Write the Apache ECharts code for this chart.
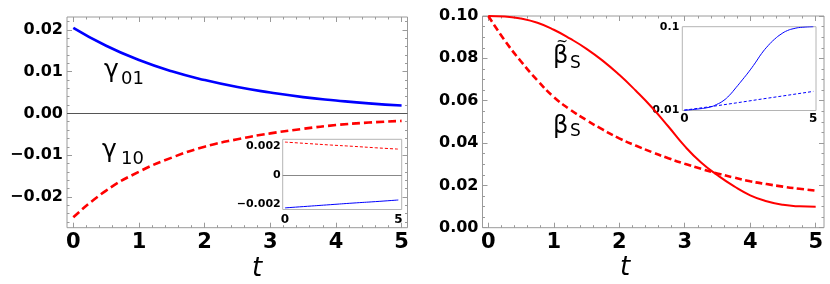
<!DOCTYPE html>
<html><head><meta charset="utf-8">
<script src="https://cdn.jsdelivr.net/npm/echarts@6/dist/echarts.min.js"></script>
<style>html,body{margin:0;padding:0;background:#fff}#c{width:830px;height:284px}</style>
</head><body><div id="c"></div>
<script>
// ---- data ----
const tMain = [0, 0.5, 1, 1.5, 2, 2.5, 3, 3.5, 4, 4.5, 5];
const gamma01 = [0.0205, 0.0162, 0.0128, 0.0101, 0.0080, 0.0063, 0.0050, 0.0039, 0.0031, 0.0024, 0.0019];
const gamma10 = [-0.0249, -0.0185, -0.0140, -0.0106, -0.0080, -0.0062, -0.0048, -0.0037, -0.0028, -0.0022, -0.0018];
const tFine = [0, 0.25, 0.5, 0.75, 1, 1.25, 1.5, 1.75, 2, 2.25, 2.5, 2.75, 3, 3.25, 3.5, 3.75, 4, 4.25, 4.5, 4.75, 5];
const betaTilde = [0.1000, 0.0998, 0.0988, 0.0968, 0.0935, 0.0893, 0.0845, 0.0788, 0.0722, 0.0648, 0.0568, 0.0478, 0.0385, 0.0308, 0.0248, 0.0196, 0.0153, 0.0125, 0.0108, 0.0101, 0.0099];
const betaS = [0.1000, 0.0885, 0.0785, 0.0696, 0.0617, 0.0558, 0.0508, 0.0463, 0.0422, 0.0388, 0.0357, 0.0328, 0.0302, 0.0278, 0.0256, 0.0237, 0.0219, 0.0206, 0.0194, 0.0184, 0.0175];
const tInset = [0, 1, 2, 3, 4, 5];
const insetRed = [0.00225, 0.00215, 0.00205, 0.00196, 0.00186, 0.00177];
const insetBlue = [-0.00225, -0.00214, -0.00203, -0.00192, -0.00182, -0.00171];
const tLog = [0, 0.5, 1, 1.25, 1.5, 1.75, 2, 2.25, 2.5, 2.75, 3, 3.25, 3.5, 3.75, 4, 4.25, 4.5, 5];
const logSolid = [0.0101, 0.0104, 0.0110, 0.0118, 0.0130, 0.0152, 0.0187, 0.0232, 0.0290, 0.0370, 0.0480, 0.0595, 0.0710, 0.0815, 0.0900, 0.0950, 0.0980, 0.1000];
const logDashed = [0.0101, 0.0111, 0.0123, 0.0137, 0.0152, 0.0169];

const xTicks = [0, 1, 2, 3, 4, 5];
const xTickLabels = ['0', '1', '2', '3', '4', '5'];
const yTicksL = [-0.02, -0.01, 0, 0.01, 0.02];
const yTickLabelsL = ['\u22120.02', '\u22120.01', '0.00', '0.01', '0.02'];
const yTicksR = [0, 0.02, 0.04, 0.06, 0.08, 0.10];
const yTickLabelsR = ['0.00', '0.02', '0.04', '0.06', '0.08', '0.10'];
const insetXTicks = [0, 5];
const insetXLabels = ['0', '5'];
const insetYTicks = [-0.002, 0, 0.002];
const insetYLabels = ['\u22120.002', '0', '0.002'];
const logYTicks = [0.01, 0.1];
const logYLabels = ['0.01', '0.1'];

// ---- helpers ----
function pairs(xs, ys) { return xs.map((x, i) => [x, ys[i]]); }
function fmt(ticks, labels) {
  return v => { const i = ticks.findIndex(t => Math.abs(t - v) <= 1e-9 + Math.abs(t) * 1e-6); return i >= 0 ? labels[i] : ''; };
}
function range(a, b, step) { const r = []; const n = Math.round((b - a) / step); for (let i = 0; i <= n; i++) r.push(+(a + i * step).toFixed(6)); return r; }

const FRAME = '#9a9a9a';
const BOLD = { fontFamily: 'DejaVu Sans', fontWeight: 'bold', color: '#000' };

function axis(grid, pos, min, max, ticks, len, label) {
  return {
    gridIndex: grid, type: 'value', position: pos, min: min, max: max,
    axisLine: { show: false, onZero: false },
    splitLine: { show: false },
    axisTick: { show: len > 0, inside: true, length: len, customValues: ticks, lineStyle: { color: FRAME, width: 1 } },
    axisLabel: label ? Object.assign({ show: true }, label) : { show: false }
  };
}

const xMinor = range(0, 5, 0.2);
const yMinorL = range(-0.026, 0.022, 0.002);
const yMinorR = range(0, 0.1, 0.005);

const xAxes = [
  axis(0, 'bottom', -0.096, 5.09, xTicks, 5, Object.assign({ customValues: xTicks, formatter: fmt(xTicks, xTickLabels), fontSize: 21, margin: 15, verticalAlign: 'middle' }, BOLD)),
  axis(0, 'bottom', -0.096, 5.09, xMinor, 2.5, null),
  axis(0, 'top', -0.096, 5.09, xTicks, 5, null),
  axis(0, 'top', -0.096, 5.09, xMinor, 2.5, null),
  axis(1, 'bottom', -0.089, 5.127, xTicks, 5, Object.assign({ customValues: xTicks, formatter: fmt(xTicks, xTickLabels), fontSize: 21, margin: 15, verticalAlign: 'middle' }, BOLD)),
  axis(1, 'bottom', -0.089, 5.127, xMinor, 2.5, null),
  axis(1, 'top', -0.089, 5.127, xTicks, 5, null),
  axis(1, 'top', -0.089, 5.127, xMinor, 2.5, null),
  axis(2, 'bottom', -0.1, 5.15, [], 0, Object.assign({ customValues: insetXTicks, formatter: fmt(insetXTicks, insetXLabels), fontSize: 12, margin: 10, verticalAlign: 'middle' }, BOLD)),
  axis(3, 'bottom', -0.078, 5.105, [], 0, Object.assign({ customValues: insetXTicks, formatter: fmt(insetXTicks, insetXLabels), fontSize: 12, margin: 8, verticalAlign: 'middle' }, BOLD))
];

const yAxes = [
  axis(0, 'left', -0.0274, 0.0231, yTicksL, 5, Object.assign({ customValues: yTicksL, formatter: fmt(yTicksL, yTickLabelsL), fontSize: 16, margin: 4 }, BOLD)),
  axis(0, 'left', -0.0274, 0.0231, yMinorL, 2.5, null),
  axis(0, 'right', -0.0274, 0.0231, yTicksL, 5, null),
  axis(0, 'right', -0.0274, 0.0231, yMinorL, 2.5, null),
  axis(1, 'left', 0, 0.1, yTicksR, 5, Object.assign({ customValues: yTicksR, formatter: fmt(yTicksR, yTickLabelsR), fontSize: 16, margin: 4 }, BOLD)),
  axis(1, 'left', 0, 0.1, yMinorR, 2.5, null),
  axis(1, 'right', 0, 0.1, yTicksR, 5, null),
  axis(1, 'right', 0, 0.1, yMinorR, 2.5, null),
  axis(2, 'left', -0.00236, 0.00244, [], 0, Object.assign({ customValues: insetYTicks, formatter: fmt(insetYTicks, insetYLabels), fontSize: 11, margin: 2 }, BOLD)),
  {
    gridIndex: 3, type: 'log', logBase: 10, min: 0.01, max: 0.1, position: 'left',
    axisLine: { show: false, onZero: false }, splitLine: { show: false }, axisTick: { show: false }, minorTick: { show: false },
    axisLabel: Object.assign({ show: true, formatter: fmt(logYTicks, logYLabels), fontSize: 11, margin: 3 }, BOLD)
  }
];

function line(xi, yi, xs, ys, style, z) {
  return { type: 'line', xAxisIndex: xi, yAxisIndex: yi, data: pairs(xs, ys), smooth: 0.5,
    showSymbol: false, z: z || 2, lineStyle: style };
}
const zeroMark = (color) => ({ silent: true, symbol: ['none', 'none'], label: { show: false }, lineStyle: { color: color, width: 1, type: 'solid' }, data: [{ yAxis: 0 }] });

const series = [
  line(0, 0, tMain, gamma01, { color: '#0000ff', width: 2.6 }),
  line(0, 0, tMain, gamma10, { color: '#ff0000', width: 2.6, type: [8, 4] }),
  line(4, 4, tFine, betaTilde, { color: '#ff0000', width: 2 }),
  line(4, 4, tFine, betaS, { color: '#ff0000', width: 2.6, type: [7, 3.5] }),
  line(8, 8, tInset, insetRed, { color: '#ff0000', width: 1, type: [3, 2] }, 6),
  line(8, 8, tInset, insetBlue, { color: '#0000ff', width: 1 }, 6),
  line(9, 9, tLog, logSolid, { color: '#0000ff', width: 1 }, 6),
  line(9, 9, tInset, logDashed, { color: '#0000ff', width: 1, type: [3, 2] }, 6)
];
series[0].markLine = zeroMark('#555');
series[4].markLine = zeroMark('#888');
series[7].smooth = false;

function txt(x, y, s, size, extra) {
  return { type: 'text', x: x, y: y, z: 10, style: Object.assign({ text: s, fontSize: size, fontFamily: 'DejaVu Sans', fill: '#000', align: 'left', verticalAlign: 'middle' }, extra || {}) };
}

const option = {
  animation: false,
  backgroundColor: '#fff',
  grid: [
    { left: 67, right: 422.5, top: 17, bottom: 56.3, show: true, borderColor: FRAME, borderWidth: 1, backgroundColor: 'transparent', outerBoundsMode: 'none' },
    { left: 482.5, right: 6, top: 16, bottom: 56.3, show: true, borderColor: FRAME, borderWidth: 1, backgroundColor: 'transparent', outerBoundsMode: 'none' },
    { left: 282.7, right: 428.3, top: 139.3, bottom: 74.5, show: true, borderColor: '#b4b4b4', borderWidth: 1, backgroundColor: '#fff', z: 5, outerBoundsMode: 'none' },
    { left: 682.3, right: 14, top: 26.7, bottom: 173.5, show: true, borderColor: '#b4b4b4', borderWidth: 1, backgroundColor: '#fff', z: 5, outerBoundsMode: 'none' }
  ],
  xAxis: xAxes,
  yAxis: yAxes,
  series: series,
  graphic: [
    txt(104, 70, '\u03b3', 25),
    txt(121, 79, '01', 18),
    txt(102, 150, '\u03b3', 25),
    txt(121, 159, '10', 18),
    txt(553, 57, '\u03b2', 24),
    txt(562, 42, '~', 14, { align: 'center' }),
    txt(570, 64, 'S', 17),
    txt(553, 127, '\u03b2', 24),
    txt(570, 132, 'S', 17),
    txt(257, 269, 't', 26, { fontStyle: 'italic', align: 'center' }),
    txt(625, 268, 't', 26, { fontStyle: 'italic', align: 'center' })
  ]
};
const chart = echarts.init(document.getElementById('c'), null, { renderer: 'canvas' });
chart.setOption(option);
</script>
</body></html>
